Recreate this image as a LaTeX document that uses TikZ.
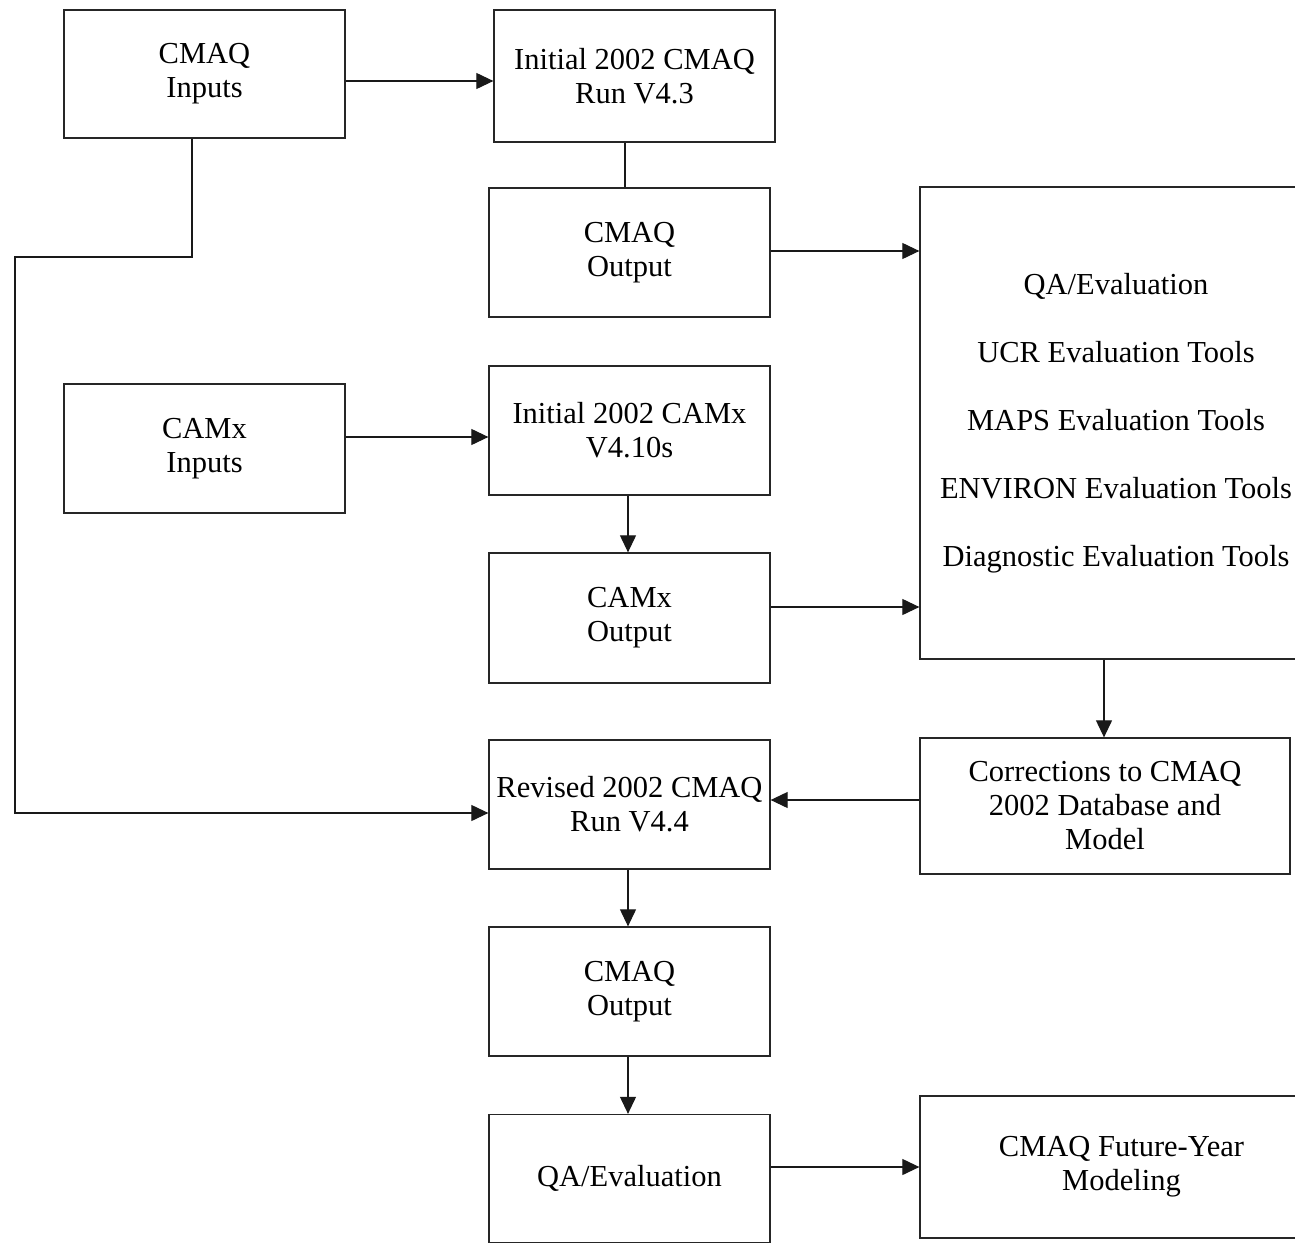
\documentclass[tikz,border=0pt]{standalone}
\usepackage{fontspec}
\setmainfont{Liberation Serif}
\usetikzlibrary{arrows.meta}
\begin{document}
\begin{tikzpicture}[x=1pt,y=-1pt,
  box/.style={draw=black!85, line width=1.3pt, align=center, inner sep=2pt,
    font=\fontsize{30.5}{34}\selectfont},
  conn/.style={draw=black!90, line width=1.1pt},
  arr/.style={conn, -{Triangle[length=17pt,width=16pt]}}]
\clip (0,0) rectangle (1295,1244);
\fill[white] (0,0) rectangle (1295,1244);
\node[box, minimum width=281pt, minimum height=128pt] (ci) at (204.5,74) {CMAQ\\Inputs};
\node[box, minimum width=281pt, minimum height=132pt] (ic) at (634.5,76) {Initial 2002 CMAQ\\Run V4.3};
\node[box, minimum width=281pt, minimum height=129pt] (co1) at (629.5,252.5) {CMAQ\\Output};
\node[box, minimum width=392pt, minimum height=472pt] (qa) at (1116,423)
  {QA/Evaluation\\[34pt]UCR Evaluation Tools\\[34pt]MAPS Evaluation Tools\\[34pt]ENVIRON Evaluation Tools\\[34pt]Diagnostic Evaluation Tools};
\node[box, minimum width=281pt, minimum height=129pt] (xi) at (204.5,448.5) {CAMx\\Inputs};
\node[box, minimum width=281pt, minimum height=129pt] (ix) at (629.5,430.5) {Initial 2002 CAMx\\V4.10s};
\node[box, minimum width=281pt, minimum height=130pt] (xo) at (629.5,618) {CAMx\\Output};
\node[box, minimum width=281pt, minimum height=129pt] (rv) at (629.5,804.5) {Revised 2002 CMAQ\\Run V4.4};
\node[box, minimum width=370pt, minimum height=136pt] (corr) at (1105,806) {Corrections to CMAQ\\2002 Database and\\Model};
\node[box, minimum width=281pt, minimum height=129pt] (co2) at (629.5,991.5) {CMAQ\\Output};
\node[box, minimum width=281pt, minimum height=128pt] (qe) at (629.5,1178.5) {QA/Evaluation};
\node[box, minimum width=403pt, minimum height=142pt] (fy) at (1121.5,1167) {CMAQ Future-Year\\Modeling};

\draw[arr] (ci.east |- 0,81) -- (ic.west |- 0,81);
\draw[conn] (ic.south -| 625,0) -- (co1.north -| 625,0);
\draw[arr] (co1.east |- 0,251) -- (qa.west |- 0,251);
\draw[arr] (ci.south -| 192,0) -- (192,257) -- (15,257) -- (15,813) -- (rv.west |- 0,813);
\draw[arr] (xi.east |- 0,437) -- (ix.west |- 0,437);
\draw[arr] (ix.south -| 628,0) -- (xo.north -| 628,0);
\draw[arr] (xo.east |- 0,607) -- (qa.west |- 0,607);
\draw[arr] (qa.south -| 1104,0) -- (corr.north -| 1104,0);
\draw[arr] (corr.west |- 0,800) -- (rv.east |- 0,800);
\draw[arr] (rv.south -| 628,0) -- (co2.north -| 628,0);
\draw[arr] (co2.south -| 628,0) -- (qe.north -| 628,0);
\draw[arr] (qe.east |- 0,1167) -- (fy.west |- 0,1167);
\end{tikzpicture}
\end{document}
